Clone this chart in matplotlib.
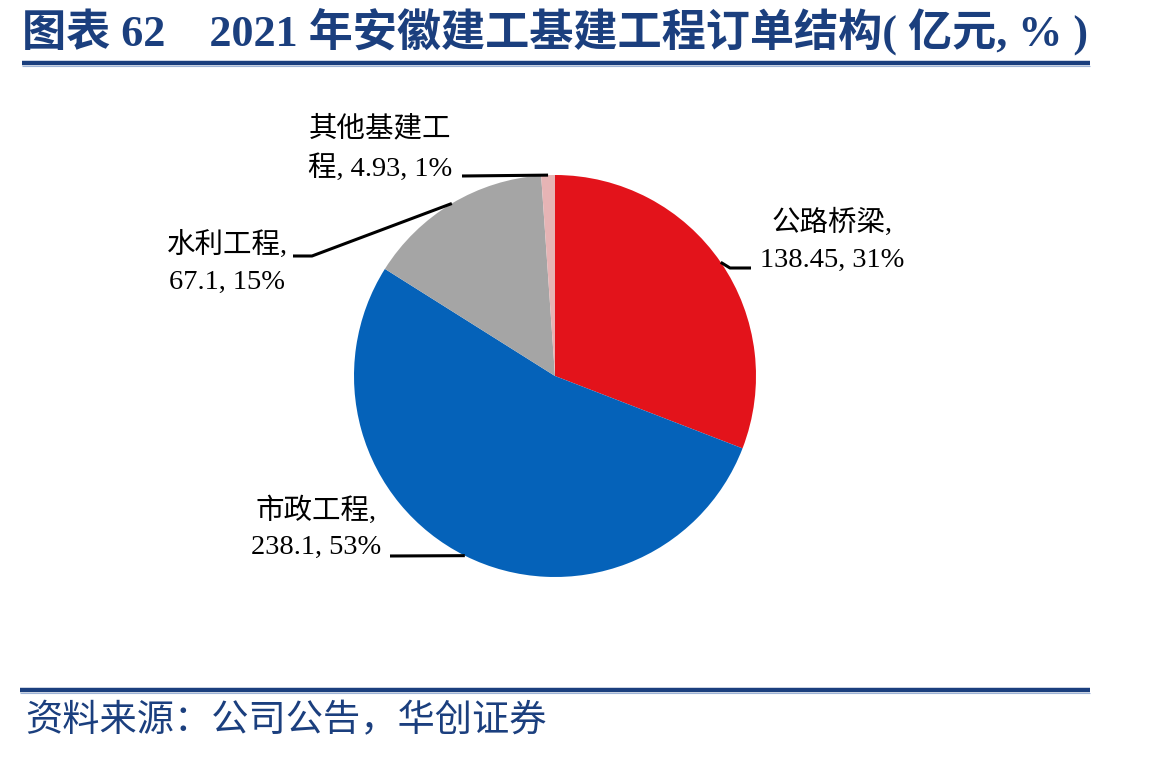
import math
import matplotlib
matplotlib.use("Agg")
import matplotlib.pyplot as plt

plt.rcParams['font.family'] = ['Liberation Serif', 'Noto Sans CJK SC', 'DejaVu Sans']

# 数据
categories = ['公路桥梁', '市政工程', '水利工程', '其他基建工程']
values = [138.45, 238.1, 67.1, 4.93]
shares = [31, 53, 15, 1]
label_texts = ['公路桥梁,\n138.45, 31%', '市政工程,\n238.1, 53%',
               '水利工程,\n67.1, 15%', '其他基建工\n程, 4.93, 1%']
colors = ['#E3131B', '#0562B9', '#A5A5A5', '#E6B4B5']

title = '图表 62    2021 年安徽建工基建工程订单结构( 亿元, % )'
source = '资料来源：公司公告，华创证券'

W, H = 1149, 761
fig = plt.figure(figsize=(W / 100, H / 100), dpi=100)
ax = fig.add_axes([0, 0, 1, 1])

# 像素坐标 (y 向下) -> 数据坐标
def py(y):
    return H - y

cx, cy, r = 555, py(376), 201
ax.pie(values, colors=colors, startangle=90, counterclock=False,
       center=(cx, cy), radius=r, frame=True)
ax.set_xlim(0, W)
ax.set_ylim(0, H)
ax.axis('off')

# 标签位置与引线折点 (像素)
label_pos = [(832, 241), (316, 528), (227, 263), (380, 149)]
elbows = [[(730, 268), (751, 268)],
          [(390, 556)],
          [(312, 256), (293, 256)],
          [(462, 176)]]

total = sum(values)
start = 90.0
for val, txt, pos, elb in zip(values, label_texts, label_pos, elbows):
    sweep = 360.0 * val / total
    mid = math.radians(start - sweep / 2)
    start -= sweep
    ex, ey = cx + r * math.cos(mid), cy + r * math.sin(mid)
    xs = [ex] + [p[0] for p in elb]
    ys = [ey] + [py(p[1]) for p in elb]
    ax.plot(xs, ys, color='black', lw=2.2, solid_capstyle='butt')
    ax.text(pos[0], py(pos[1]), txt, ha='center', va='center',
            multialignment='center', fontsize=20.5, linespacing=1.55)

navy = '#1B3F7E'
# 标题
ax.text(22, py(31), title, ha='left', va='center', fontsize=31.8,
        fontweight='bold', color=navy)
ax.plot([22, 1090], [py(63), py(63)], color=navy, lw=3.2, solid_capstyle='butt')
ax.plot([22, 1090], [py(66), py(66)], color='#9DB3D6', lw=0.8, solid_capstyle='butt')

# 底线与来源
ax.plot([20, 1090], [py(690), py(690)], color=navy, lw=3.2, solid_capstyle='butt')
ax.plot([20, 1090], [py(693), py(693)], color='#9DB3D6', lw=0.8, solid_capstyle='butt')
ax.text(25, py(722), source, ha='left', va='center', fontsize=26.8,
        fontstyle='italic', color=navy)

fig.savefig('out.png', dpi=100)
